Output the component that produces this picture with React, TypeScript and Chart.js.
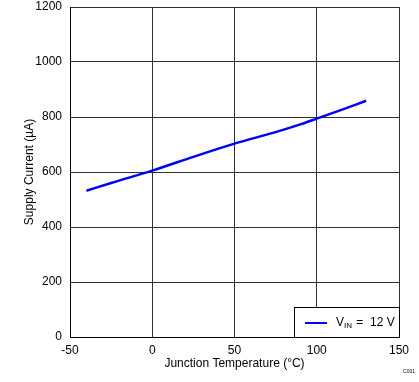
import React, { useEffect, useRef } from "react";
import { Chart, registerables } from "chart.js";

Chart.register(...registerables);

const temperatures = [-40, -25, 0, 25, 50, 75, 90, 100, 115, 130];
const supplyCurrent = [532, 560, 605, 655, 703, 745, 773, 794, 826, 859];
const xTicks = [-50, 0, 50, 100, 150];
const yTicks = [0, 200, 400, 600, 800, 1000, 1200];
const legendLabel = { main: "V", sub: "IN", rest: " =  12 V" };
const cornerNote = "C001";

const FONT = "Liberation Sans, Arial, sans-serif";

const overlayPlugin = {
  id: "overlay",
  afterDraw(chart: any) {
    const ctx = chart.ctx;
    const a = chart.chartArea;
    ctx.save();
    const bx = a.right - 105;
    const by = a.bottom - 30;
    ctx.fillStyle = "#ffffff";
    ctx.fillRect(bx, by, 105, 30);
    ctx.strokeStyle = "#000000";
    ctx.lineWidth = 1;
    ctx.strokeRect(bx + 0.5, by + 0.5, 105, 30);
    const cy = by + 16;
    ctx.strokeStyle = "#0000ff";
    ctx.lineWidth = 2;
    ctx.beginPath();
    ctx.moveTo(bx + 11, cy);
    ctx.lineTo(bx + 33, cy);
    ctx.stroke();
    ctx.fillStyle = "#000000";
    ctx.textBaseline = "middle";
    ctx.textAlign = "left";
    ctx.font = `12px ${FONT}`;
    let tx = bx + 42;
    ctx.fillText(legendLabel.main, tx, cy);
    tx += ctx.measureText(legendLabel.main).width;
    ctx.font = `8px ${FONT}`;
    ctx.fillText(legendLabel.sub, tx, cy + 3);
    tx += ctx.measureText(legendLabel.sub).width;
    ctx.font = `12px ${FONT}`;
    ctx.fillText(legendLabel.rest, tx + 1, cy);
    ctx.font = `5px ${FONT}`;
    ctx.textAlign = "right";
    ctx.fillText(cornerNote, chart.width - 4, chart.height - 10);
    ctx.restore();
  },
};

export default function App() {
  const ref = useRef<HTMLCanvasElement | null>(null);
  useEffect(() => {
    document.body.style.margin = "0";
    if (!ref.current) return;
    const chart = new Chart(ref.current, {
      type: "line",
      data: {
        datasets: [
          {
            data: temperatures.map((t, i) => ({ x: t, y: supplyCurrent[i] })),
            borderColor: "#0000ff",
            borderWidth: 2.5,
            pointRadius: 0,
            cubicInterpolationMode: "monotone",
            fill: false,
          },
        ],
      },
      options: {
        responsive: false,
        animation: false,
        layout: { padding: { top: 7, right: 20, left: 0, bottom: 0 } },
        plugins: { legend: { display: false }, tooltip: { enabled: false } },
        scales: {
          x: {
            type: "linear",
            min: -50,
            max: 150,
            afterBuildTicks: (s: any) => {
              s.ticks = xTicks.map((v) => ({ value: v }));
            },
            afterFit: (s: any) => {
              s.height = 45;
              s.paddingLeft = 0;
              s.paddingRight = 0;
            },
            grid: { color: "#303030", lineWidth: 1, drawTicks: false },
            border: { color: "#000000", width: 1 },
            ticks: {
              color: "#000000",
              font: { family: FONT, size: 12 },
              padding: 6,
              maxRotation: 0,
              callback: (v: any) => String(v),
            },
            title: {
              display: true,
              text: "Junction Temperature (°C)",
              color: "#000000",
              font: { family: FONT, size: 12 },
              padding: { top: 0, bottom: 11 },
            },
          },
          y: {
            type: "linear",
            min: 0,
            max: 1200,
            afterBuildTicks: (s: any) => {
              s.ticks = yTicks.map((v) => ({ value: v }));
            },
            afterFit: (s: any) => {
              s.width = 70;
              s.paddingTop = 0;
              s.paddingBottom = 0;
            },
            grid: { color: "#303030", lineWidth: 1, drawTicks: false },
            border: { color: "#000000", width: 1 },
            ticks: {
              color: "#000000",
              font: { family: FONT, size: 12 },
              padding: 8,
              callback: (v: any) => String(v),
            },
            title: {
              display: true,
              text: "Supply Current (µA)",
              color: "#000000",
              font: { family: FONT, size: 12 },
              padding: { top: 22, bottom: 0 },
            },
          },
        },
      },
      plugins: [overlayPlugin],
    });
    return () => chart.destroy();
  }, []);
  return (
    <div style={{ width: 419, height: 382, background: "#ffffff" }}>
      <canvas ref={ref} width={419} height={382} />
    </div>
  );
}
